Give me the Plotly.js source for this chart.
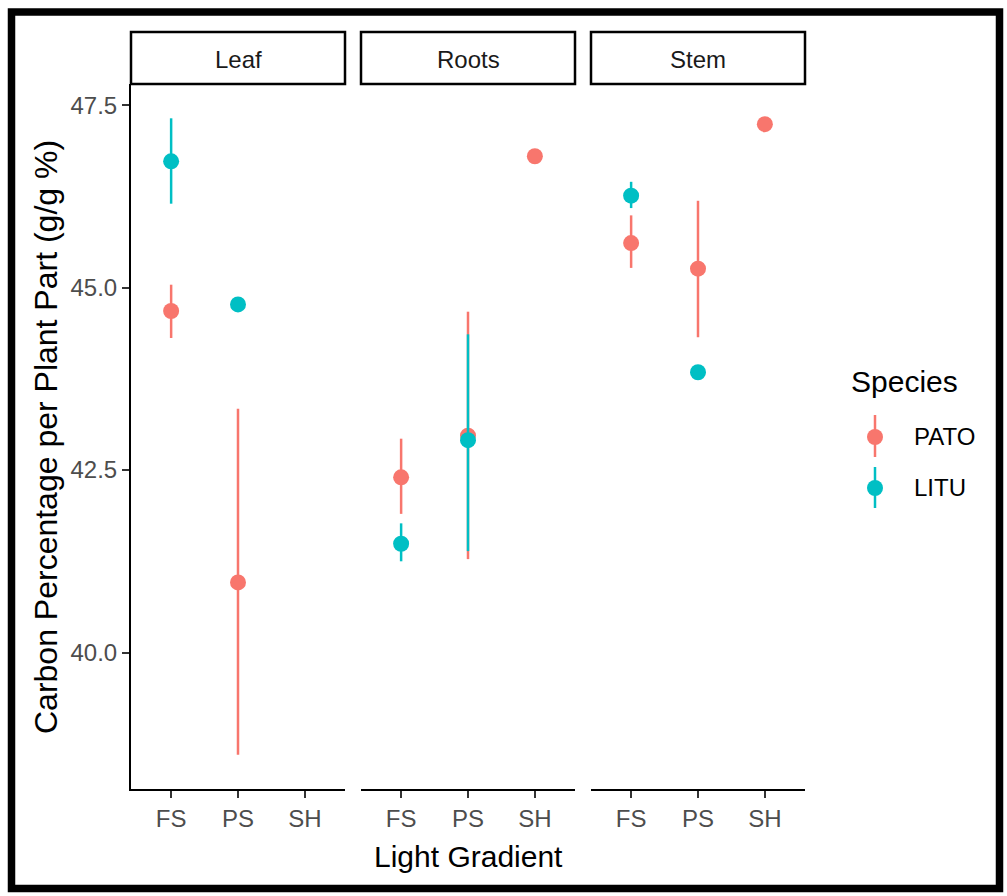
<!DOCTYPE html>
<html>
<head>
<meta charset="utf-8">
<script src="https://cdn.plot.ly/plotly-3.0.1.min.js"></script>
<style>html,body{margin:0;padding:0;background:#fff;}#chart{width:1007px;height:896px;}</style>
</head>
<body>
<div id="chart"></div>
<script>
// ---- data ----
const categories = ['FS', 'PS', 'SH'];
const facets = ['Leaf', 'Roots', 'Stem'];
const species = ['PATO', 'LITU'];

// PATO: mean, lower, upper per facet (FS, PS, SH)
const patoMean  = { Leaf: [44.68, 40.96, null], Roots: [42.40, 42.97, 46.80], Stem: [45.61, 45.26, 47.24] };
const patoLower = { Leaf: [44.31, 38.60, null], Roots: [41.90, 41.28, null],  Stem: [45.27, 44.32, null] };
const patoUpper = { Leaf: [45.04, 43.34, null], Roots: [42.93, 44.67, null],  Stem: [45.99, 46.19, null] };

// LITU: mean, lower, upper per facet (FS, PS, SH)
const lituMean  = { Leaf: [46.73, 44.77, null], Roots: [41.49, 42.91, null], Stem: [46.26, 43.84, null] };
const lituLower = { Leaf: [46.15, null, null],  Roots: [41.25, 41.39, null], Stem: [46.09, null, null] };
const lituUpper = { Leaf: [47.32, null, null],  Roots: [41.77, 44.36, null], Stem: [46.45, null, null] };

const yTickVals = [40, 42.5, 45, 47.5];
const yTickText = ['40.0', '42.5', '45.0', '47.5'];

// ---- styling ----
const colors = { PATO: '#F8766D', LITU: '#00BFC4' };
const FONT = '"Liberation Sans", Arial, sans-serif';
const W = 1007, H = 896;
const L = 131, R = 805, T = 84, B = 789;
const px = x => (x - L) / (R - L);
const py = y => (B - y) / (B - T);
const domains = [[0, 214 / 674], [230 / 674, 444 / 674], [460 / 674, 1]];

const series = {
  PATO: { mean: patoMean, lower: patoLower, upper: patoUpper },
  LITU: { mean: lituMean, lower: lituLower, upper: lituUpper }
};

const traces = [];
facets.forEach((f, i) => {
  const xa = i === 0 ? 'x' : 'x' + (i + 1);
  species.forEach(sp => {
    const s = series[sp];
    const m = s.mean[f], lo = s.lower[f], up = s.upper[f];
    traces.push({
      type: 'scatter', mode: 'markers', xaxis: xa, yaxis: 'y',
      x: categories, y: m, name: sp, showlegend: false, cliponaxis: false,
      marker: { color: colors[sp], size: 16, line: { width: 0 } },
      error_y: {
        type: 'data', symmetric: false, visible: true,
        array: m.map((v, k) => (v == null || up[k] == null) ? 0 : up[k] - v),
        arrayminus: m.map((v, k) => (v == null || lo[k] == null) ? 0 : v - lo[k]),
        color: colors[sp], thickness: 2.5, width: 0
      },
      hoverinfo: 'x+y+name'
    });
  });
});

const xaxisBase = {
  type: 'category', categoryorder: 'array', categoryarray: categories,
  range: [-0.6, 2.6], showline: true, linecolor: '#000', linewidth: 2,
  ticks: 'outside', ticklen: 7, tickwidth: 2, tickcolor: '#333',
  tickfont: { family: FONT, size: 24, color: '#4D4D4D' },
  showgrid: false, zeroline: false, anchor: 'y', fixedrange: true
};

const layout = {
  width: W, height: H,
  margin: { l: L, r: W - R, t: T, b: H - B, pad: 0 },
  paper_bgcolor: '#fff', plot_bgcolor: '#fff',
  showlegend: false,
  font: { family: FONT },
  xaxis: Object.assign({}, xaxisBase, { domain: domains[0] }),
  xaxis2: Object.assign({}, xaxisBase, { domain: domains[1] }),
  xaxis3: Object.assign({}, xaxisBase, { domain: domains[2] }),
  yaxis: {
    range: [38.13, 47.79], tickvals: yTickVals, ticktext: yTickText,
    showline: true, linecolor: '#000', linewidth: 2,
    ticks: 'outside', ticklen: 7, tickwidth: 2, tickcolor: '#333',
    tickfont: { family: FONT, size: 24, color: '#4D4D4D' },
    showgrid: false, zeroline: false, fixedrange: true
  },
  shapes: [],
  annotations: []
};

// strips
facets.forEach((f, i) => {
  layout.shapes.push({
    type: 'rect', xref: 'paper', yref: 'paper',
    x0: domains[i][0], x1: domains[i][1], y0: py(84), y1: py(32),
    line: { color: '#000', width: 2.5 }, fillcolor: '#fff', layer: 'below'
  });
  layout.annotations.push({
    xref: 'paper', yref: 'paper', x: (domains[i][0] + domains[i][1]) / 2, y: py(60),
    text: f, showarrow: false, xanchor: 'center', yanchor: 'middle',
    font: { family: FONT, size: 24, color: '#1A1A1A' }
  });
});

// axis titles
layout.annotations.push({
  xref: 'paper', yref: 'paper', x: px(468), y: py(857), text: 'Light Gradient',
  showarrow: false, xanchor: 'center', yanchor: 'middle',
  font: { family: FONT, size: 30, color: '#000' }
});
layout.annotations.push({
  xref: 'paper', yref: 'paper', x: px(46), y: py(437),
  text: 'Carbon Percentage per Plant Part (g/g %)', textangle: -90,
  showarrow: false, xanchor: 'center', yanchor: 'middle',
  font: { family: FONT, size: 32, color: '#000' }
});

// legend (drawn manually to mimic the pointrange key)
layout.annotations.push({
  xref: 'paper', yref: 'paper', x: px(849), y: py(381), text: 'Species',
  showarrow: false, xanchor: 'left', yanchor: 'middle',
  font: { family: FONT, size: 30, color: '#000' }
});
const legendRows = [
  { sp: 'PATO', cy: 437, y0: 415, y1: 457 },
  { sp: 'LITU', cy: 488, y0: 467, y1: 508 }
];
legendRows.forEach(r => {
  layout.shapes.push({
    type: 'line', xref: 'paper', yref: 'paper',
    x0: px(875), x1: px(875), y0: py(r.y0), y1: py(r.y1),
    line: { color: colors[r.sp], width: 2.5 }
  });
  layout.shapes.push({
    type: 'circle', xref: 'paper', yref: 'paper',
    x0: px(867), x1: px(883), y0: py(r.cy + 8), y1: py(r.cy - 8),
    line: { width: 0 }, fillcolor: colors[r.sp]
  });
  layout.annotations.push({
    xref: 'paper', yref: 'paper', x: px(912), y: py(r.cy), text: r.sp,
    showarrow: false, xanchor: 'left', yanchor: 'middle',
    font: { family: FONT, size: 24, color: '#000' }
  });
});

// outer black frame
layout.shapes.push({
  type: 'rect', xref: 'paper', yref: 'paper',
  x0: px(11.5), x1: px(999.5), y0: py(888.5), y1: py(12),
  line: { color: '#000', width: 7.5 }, fillcolor: 'rgba(0,0,0,0)'
});

Plotly.newPlot('chart', traces, layout, { displayModeBar: false, staticPlot: true });
</script>
</body>
</html>
